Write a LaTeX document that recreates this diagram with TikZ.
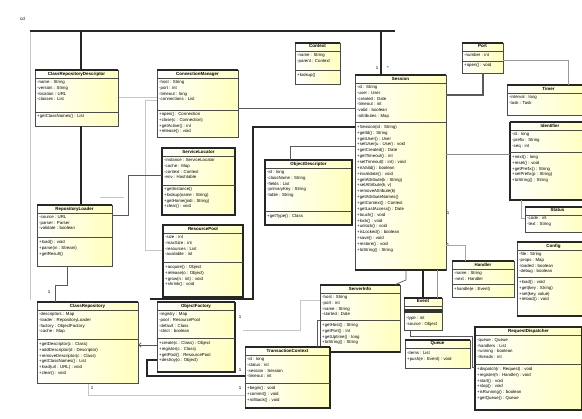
\documentclass[tikz,border=0pt]{standalone}
\usepackage{fontspec}
\setmainfont{Liberation Sans}
\usetikzlibrary{fit,arrows.meta}
\definecolor{umly}{HTML}{FFFFBC}
\tikzset{
  cls/.style={draw=black!70, line width=0.45pt, inner sep=0pt, left color=white, right color=umly},
  hdr/.style={draw=black!85, line width=1.2pt},
  divl/.style={draw=black!70, line width=0.45pt},
  txt/.style={font=\fontsize{3.7}{5.0}\selectfont, anchor=north west, inner sep=0pt, align=left},
  ttl/.style={font=\fontsize{3.8}{5.0}\selectfont\bfseries, anchor=north, inner sep=0pt},
  lbl/.style={font=\fontsize{3.8}{4}\selectfont, inner sep=0pt},
  conn/.style={draw=black!65, line width=0.6pt},
  thk/.style={draw=black!85, line width=1.5pt},
  faint/.style={draw=black!22, line width=0.5pt},
  bord/.style={draw=black!85, line width=1.3pt},
}
% name, x1, y1, x2, y2, title
\newcommand\umlclass[6]{%
  \node[cls, fit={(#2,#3) (#4,#5)}] (#1) {};
  \draw[hdr] (#2,#3) -- (#4,#3);
  \node[ttl] (#1t) at ({(#2+#4)/2},#3+1.6) {#6};
  \draw[divl] (#2,#3+8) -- (#4,#3+8);
}
\newcommand\umldiv[3]{\draw[divl] (#1.west |- 0,#3) -- (#1.east |- 0,#3);}
\begin{document}
\begin{tikzpicture}[x=0.03cm, y=-0.03cm]
\useasboundingbox[fill=white] (0,0) rectangle (582,419);

\node[lbl, anchor=west] (cd) at (20,19) {cd};

% ---------- faint background connectors ----------
\draw[faint] (30,31) -- (30,300);
\draw[faint] (118,97) -- (157,97);
\draw[faint] (157,100) -- (145,100) -- (145,250) -- (163,250);
\draw[faint] (100,197) -- (124,197);
\draw[faint] (88,383) -- (88,395) -- (245,395);
\draw[faint] (243,330) -- (300,330) -- (300,300) -- (320,300);

% ---------- classes ----------
\umlclass{b1}{35}{70}{118}{126}{ClassRepositoryDescriptor}
\node[txt] (b1a) at (37,80) {-name : String\\-version : String\\-location : URL\\-classes : List};
\umldiv{b1}{35}{112}
\node[txt] (b1o) at (37,114) {+getClassNames() : List};

\umlclass{b2}{157}{70}{238}{137}{ConnectionManager}
\node[txt] (b2a) at (159,80) {-host : String\\-port : int\\-timeout : long\\-connections : List};
\umldiv{b2}{157}{110}
\node[txt] (b2o) at (159,112) {+open() : Connection\\+close(c : Connection)\\+getActive() : int\\+release() : void};

\umlclass{b3}{162}{148}{235}{215}{ServiceLocator}
\draw[bord] (162,148) rectangle (235,215);
\node[txt] (b3a) at (164,158) {-instance : ServiceLocator\\-cache : Map\\-context : Context\\-env : Hashtable};
\umldiv{b3}{162}{185}
\node[txt] (b3o) at (164,187) {+getInstance()\\+lookup(name : String)\\+getHome(jndi : String)\\+clear() : void};

\umlclass{b4}{265}{160}{352}{225}{ObjectDescriptor}
\draw[bord] (265,160) rectangle (352,225);
\node[txt] (b4a) at (267,170) {-id : long\\-className : String\\-fields : List\\-primaryKey : String\\-table : String};
\umldiv{b4}{265}{211}
\node[txt] (b4o) at (267,214) {+getType() : Class};

\umlclass{b5}{355}{75}{446}{270}{Session}
\node[txt] (b5a) at (357,85) {-id : String\\-user : User\\-created : Date\\-timeout : int\\-valid : boolean\\-attributes : Map};
\umldiv{b5}{355}{122}
\node[txt] (b5o) at (357,125) {+Session(id : String)\\+getId() : String\\+getUser() : User\\+setUser(u : User) : void\\+getCreated() : Date\\+getTimeout() : int\\+setTimeout(t : int) : void\\+isValid() : boolean\\+invalidate() : void\\+getAttribute(k : String)\\+setAttribute(k, v)\\+removeAttribute(k)\\+getAttributeNames()\\+getContext() : Context\\+getLastAccess() : Date\\+touch() : void\\+lock() : void\\+unlock() : void\\+isLocked() : boolean\\+save() : void\\+restore() : void\\+toString() : String};
\draw[bord] (355,270) -- (446,270);

\umlclass{b6}{295}{43}{340}{84}{Context}
\node[txt] (b6a) at (297,53) {-name : String\\-parent : Context};
\umldiv{b6}{295}{70}
\node[txt] (b6o) at (297,73) {+lookup()};

\umlclass{b7}{462}{43}{503}{73}{Port}
\node[txt] (b7a) at (464,53) {-number : int};
\umldiv{b7}{462}{61}
\node[txt] (b7o) at (464,63) {+open() : void};

\umlclass{b8}{507}{85}{590}{115}{Timer}
\node[txt] (b8a) at (509,95) {-interval : long\\-task : Task};

\umlclass{b9}{510}{122}{590}{200}{Identifier}
\draw[bord] (510,122) -- (510,200) -- (590,200);
\node[txt] (b9a) at (512,132) {-id : long\\-prefix : String\\-seq : int};
\umldiv{b9}{510}{152}
\node[txt] (b9o) at (512,155) {+next() : long\\+reset() : void\\+getPrefix() : String\\+setPrefix(p : String)\\+toString() : String};

\umlclass{b10}{525}{207}{590}{232}{Status}
\node[txt] (b10a) at (527,216) {-code : int\\-text : String};

\umlclass{b11}{517}{242}{590}{316}{Config}
\draw[bord] (517,316) -- (590,316);
\node[txt] (b11a) at (519,252) {-file : String\\-props : Map\\-loaded : boolean\\-debug : boolean};
\umldiv{b11}{517}{277}
\node[txt] (b11o) at (519,280) {+load() : void\\+get(key : String)\\+set(key, value)\\+reload() : void};

\umlclass{b12}{452}{261}{514}{297}{Handler}
\node[txt] (b12a) at (454,271) {-name : String\\-next : Handler};
\umldiv{b12}{452}{284}
\node[txt] (b12o) at (454,287) {+handle(e : Event)};

\umlclass{b13}{320}{285}{400}{352}{ServerInfo}
\draw[bord] (320,352) -- (400,352);
\node[txt] (b13a) at (322,295) {-host : String\\-port : int\\-name : String\\-started : Date};
\umldiv{b13}{320}{320}
\node[txt] (b13o) at (322,323) {+getHost() : String\\+getPort() : int\\+getUptime() : long\\+toString() : String};

\umlclass{b14}{404}{298}{442}{330}{Event}
\fill[black!80] (404,309) rectangle (442,313);
\node[txt] (b14a) at (406,316) {-type : int\\-source : Object};

\umlclass{b15}{405}{340}{470}{368}{Queue}
\node[txt] (b15a) at (407,351) {-items : List\\+push(e : Event) : void};

\umlclass{b16}{475}{327}{582}{410}{RequestDispatcher}
\draw[bord] (475,327) rectangle (581.5,410);
\node[txt] (b16a) at (477,338) {-queue : Queue\\-handlers : List\\-running : boolean\\-threads : int};
\umldiv{b16}{475}{364}
\node[txt] (b16o) at (477,367) {+dispatch(r : Request) : void\\+register(h : Handler) : void\\+start() : void\\+stop() : void\\+isRunning() : boolean\\+getQueue() : Queue};

\umlclass{b17}{37}{302}{138}{383}{ClassRepository}
\node[txt] (b17a) at (39,312) {-descriptors : Map\\-loader : RepositoryLoader\\-factory : ObjectFactory\\-cache : Map};
\umldiv{b17}{37}{339}
\node[txt] (b17o) at (39,342) {+getDescriptor(c : Class)\\+addDescriptor(d : Descriptor)\\+removeDescriptor(c : Class)\\+getClassNames() : List\\+load(url : URL) : void\\+clear() : void};

\umlclass{b18}{37}{205}{112}{266}{RepositoryLoader}
\node[txt] (b18a) at (39,215) {-source : URL\\-parser : Parser\\-validate : boolean};
\umldiv{b18}{37}{237}
\node[txt] (b18o) at (39,240) {+load() : void\\+parse(in : Stream)\\+getResult()};

\umlclass{b19}{163}{225}{243}{297}{ResourcePool}
\draw[bord] (163,225) rectangle (243,297);
\node[txt] (b19a) at (165,235) {-size : int\\-maxSize : int\\-resources : List\\-available : int};
\umldiv{b19}{163}{262}
\node[txt] (b19o) at (165,265) {+acquire() : Object\\+release(o : Object)\\+grow(n : int) : void\\+shrink() : void};

\umlclass{b20}{157}{302}{235}{372}{ObjectFactory}
\draw[bord] (235,302) -- (235,372) -- (157,372);
\node[txt] (b20a) at (159,312) {-registry : Map\\-pool : ResourcePool\\-default : Class\\-strict : boolean};
\umldiv{b20}{157}{338}
\node[txt] (b20o) at (159,341) {+create(c : Class) : Object\\+register(c : Class)\\+getPool() : ResourcePool\\+destroy(o : Object)};

\umlclass{b21}{245}{347}{330}{408}{TransactionContext}
\draw[bord] (330,347) -- (330,408) -- (245,408);
\node[txt] (b21a) at (247,357) {-id : long\\-status : int\\-session : Session\\-timeout : int};
\umldiv{b21}{245}{383}
\node[txt] (b21o) at (247,386) {+begin() : void\\+commit() : void\\+rollback() : void};

% ---------- connectors ----------
\coordinate (tl) at (30,31);
\coordinate (tr) at (395,31);
\draw[thk] (tl) -- (tr);
\draw[thk] (b1.north -| 81,0) -- (81,31);
\draw[thk] (b5.north -| 381,0) -- (381,31);
\draw[thk] (b1.south -| 81,0) -- (b18.north -| 81,0);

\draw[conn] (b18.south -| 67,0) -- (67,285) -- (55,285) -- (b17.north -| 55,0);
\draw[conn] (b18.east |- 0,215) -- (128,215) -- (128,175) -- (b3.west |- 0,175);
\draw[conn, -{Straight Barb[length=2pt]}] (b20.west |- 0,345) -- (b17.east |- 0,345);
\draw[thk, line width=1.2pt] (b20.west |- 0,360) -- (147,360) -- (147,376) -- (b21.west |- 0,376);

\draw[conn] (b2.east |- 0,108) -- (b5.west |- 0,108);
\draw[thk, line width=1.1pt] (b5.west |- 0,127) -- (253,127) -- (253,299) -- (150,299);
\draw[conn] (b5.west |- 0,146) -- (290,146) -- (b4.north -| 290,0);

\draw[conn, line width=0.9pt] (b5.east |- 0,95) -- (483,95) -- (b7.south -| 483,0);
\draw[faint, draw=black!40] (b7.east |- 0,60) -- (568,60) -- (b8.north -| 568,0);
\draw[conn, draw=black!45] (b5.east |- 0,154) -- (b9.west |- 0,154);
\draw[faint, draw=black!35] (b9.south -| 521,0) -- (521,218) -- (b10.west |- 0,218);
\draw[faint, draw=black!35] (b5.east |- 0,245) -- (465,245) -- (b12.north -| 465,0);

\draw[thk] (b5.south -| 423,0) -- (b14.north -| 423,0);
\draw[conn] (b5.south -| 406,0) -- (406,280) -- (b13.north -| 395,0);
\draw[faint, draw=black!40] (b5.south -| 437,0) -- (b14.north -| 437,0);
\draw[conn] (b16.west |- 0,367) -- (472,367) -- (472,336) -- (410,336) -- (b14.south -| 410,0);
\draw[conn] (b13.west |- 0,320) -- (317,320) -- (b21.north -| 317,0);

% ---------- multiplicities ----------
\node[lbl] (m1) at (377,68) {1};
\node[lbl] (m2) at (388,68) {*};
\node[lbl] (m3) at (49,292) {1};
\node[lbl] (m4) at (92,388) {1};
\node[lbl] (m5) at (240,388) {1};
\node[lbl] (m6) at (240,370) {1};
\node[lbl] (m7) at (240,317) {1};
\node[lbl] (m8) at (448,213) {1};
\node[lbl] (m9) at (448,245) {*};
\end{tikzpicture}
\end{document}
